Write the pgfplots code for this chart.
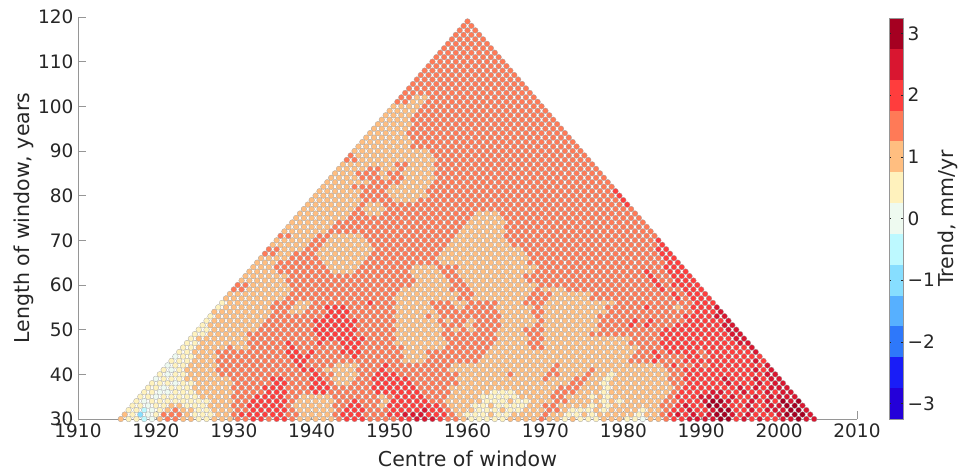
\documentclass[border=0pt]{standalone}
\usepackage{pgfplots}
\pgfplotsset{compat=1.18}
\usepackage{fontspec}
\setmainfont{DejaVu Sans}
\definecolor{b1}{RGB}{36,0,217}
\definecolor{b2}{RGB}{25,29,247}
\definecolor{b3}{RGB}{46,120,250}
\definecolor{b4}{RGB}{87,176,255}
\definecolor{c0}{RGB}{135,222,255}
\definecolor{c1}{RGB}{189,249,255}
\definecolor{c2}{RGB}{238,250,240}
\definecolor{c3}{RGB}{255,242,189}
\definecolor{c4}{RGB}{255,190,128}
\definecolor{c5}{RGB}{255,122,87}
\definecolor{c6}{RGB}{255,61,61}
\definecolor{c7}{RGB}{217,22,48}
\definecolor{c8}{RGB}{165,0,33}
\definecolor{edge}{RGB}{165,165,165}
\definecolor{txt}{RGB}{38,38,38}
\definecolor{axl}{RGB}{150,150,150}
\newcount\Xc \newcount\Xe \newcount\Xa \newcount\Ln \newtoks\Pts
% One row of the chart: window length, then one class digit per window centre.
% Classes: 0=-1, 1=-0.5, 2=0, 3=0.5, 4=1, 5=1.5, 6=2, 7=2.5, 8=3 mm/yr
\def\R#1#2{\Ln=#1\relax
  \Xc=\numexpr 3831+#1-30\relax
  \Xe=\numexpr 4009-#1+30\relax
  \Xa=\numexpr((\Xc-\ifodd\Xc 1\else 0\fi-9)/20)*20+20+\ifodd\Xc 1\else 0\fi\relax
  \Pts={}\Rp#2;%
  \edef\tmp{\noexpand\addplot[dots] coordinates {\the\Pts};}\tmp}
\def\Rp#1{\ifx#1;\else
  \ifx#1/\Xc=\Xa \advance\Xa by 20
  \else
    \ifnum\Xc>\Xe\else
      \edef\pt{(\the\numexpr(\Xc-\ifodd\Xc 1\else 0\fi)/2\relax.\ifodd\Xc 5\else 0\fi,\the\Ln) [#1]}%
      \Pts=\expandafter\expandafter\expandafter{\expandafter\the\expandafter\Pts\pt}%
    \fi
    \advance\Xc by 2
  \fi
  \expandafter\Rp\fi}
\pgfplotsset{dots/.style={scatter,only marks,scatter src=explicit symbolic,mark size=2.85pt,
  mark options={line width=.3pt},
  scatter/classes={
   0={mark=*,draw=edge,fill=c0},1={mark=*,draw=edge,fill=c1},2={mark=*,draw=edge,fill=c2},
   3={mark=*,draw=edge,fill=c3},4={mark=*,draw=edge,fill=c4},5={mark=*,draw=edge,fill=c5},
   6={mark=*,draw=edge,fill=c6},7={mark=*,draw=edge,fill=c7},8={mark=*,draw=edge,fill=c8}}}}
\begin{document}
\begin{tikzpicture}[x=1pt,y=1pt]
\useasboundingbox (0,0) rectangle (959,472);
\begin{axis}[at={(78pt,53pt)},anchor=south west,scale only axis,width=779pt,height=402pt,
  xmin=1910,xmax=2010,ymin=30,ymax=120,clip=false,
  axis x line*=bottom,axis y line*=left,axis line style={-,color=axl,line width=.8pt},
  xtick={1910,1920,...,2010},ytick={30,40,...,120},
  tick align=inside,major tick length=8pt,tick style={color=axl,line width=.8pt},
  /pgf/number format/assume math mode=true,/pgf/number format/1000 sep={},
  tick label style={font=\fontsize{18.5}{20}\selectfont,color=txt},
  xlabel={Centre of window},ylabel={Length of window, years},
  label style={font=\fontsize{20.5}{23}\selectfont,color=txt},
  xlabel style={at={(axis description cs:0.5,0)},anchor=base,yshift=-47pt},
  ylabel style={at={(axis description cs:0,0.5)},anchor=base,rotate=0,yshift=48pt},
  xticklabel style={yshift=-1pt},yticklabel style={xshift=-1pt},
]
\R{30}{43312/4554433444/5566566544/4445666555/5667776554/3333344445/4434333444/3324456677/7788676766/77877}
\R{31}{4302/3555433344/5666666554/4445666555/6677766654/3334334444/5443343444/4434456767/6788767666/78887}
\R{32}{3312/3454433444/5566666544/4445666555/6666766544/4333433444/5543334344/4434456676/6788667677/7887}
\R{33}{332/3344333444/5566666544/4445566554/6666666544/4334333344/5544443434/4444455676/6887667667/7887}
\R{34}{323/3333333444/5566666544/4445565554/6666655444/4433343344/4554444343/4444455666/7887667676/878}
\R{35}{33/2333334444/5556666554/4445555554/5666655544/4433333444/4554443434/4444445666/7776766767/777}
\R{36}{33/2233344444/5555666555/6655555566/6666555544/4443334444/4555444344/4444445666/6776676676/77}
\R{37}{3/3233344444/5555666555/6665555566/6666555544/4444444444/4455544434/4444444566/6666676767/77}
\R{38}{3/3323344444/5555566555/6654455566/6665555554/4444444444/4445544344/4444445566/6667666767/7}
\R{39}{2333444444/5555566555/6654445566/6665555554/4444444444/5444554434/4444445566/6667666767/7}
\R{40}{3233444455/5555555555/6554445566/6555555554/4444454444/5544454434/4444445566/6666666677}
\R{41}{323444455/5555555556/6544445556/5555555544/4444444444/4544445444/4444445566/6666666767}
\R{42}{233444455/5555555565/5554445556/5555555544/4444444444/4544444444/4444456556/5666666677}
\R{43}{33344455/5555555566/5555555555/5544455555/5544444444/4444444444/4555655566/6666666767}
\R{44}{23344455/5555555666/5555565555/5544455555/5544444444/4444444444/4555655566/5666666677}
\R{45}{3344455/5555555665/6555666555/5544455555/5554444444/4444444444/4455656666/5666666767}
\R{46}{3344445/4455555655/5555665555/5544444555/5554444455/4444444444/4455566666/6666667}
\R{47}{334444/4455555655/5655666555/5444444455/5555444455/4444444444/4555566666/6666677}
\R{48}{344444/4455555555/5666666555/5444444555/5555444455/4444444444/4555566666/666677}
\R{49}{33444/4455555555/5666665555/5444444555/5555444455/4444445555/5555566666/666677}
\R{50}{33444/4445555555/6666665555/5444444545/4555444555/4444444555/5555566666/66677}
\R{51}{3444/4444555555/5666665555/5444444555/4555544445/4444444555/5656555666/66677}
\R{52}{3444/4444555555/6666665555/5444445455/4555444445/4444444555/5656555566/6667}
\R{53}{344/4444455555/5566655555/5444454555/5555544445/4444444555/5555555566/6677}
\R{54}{444/4444455445/5566655555/5444445555/5555444455/4444444455/5555555556/667}
\R{55}{34/4444455544/5566655555/5444445554/5555444445/4444444455/5556555456/667}
\R{56}{34/4444455544/5555555655/5444455544/5555444555/4444444445/5555555556/66}
\R{57}{4/4444444555/5555555555/5444444445/5444444455/5444445555/5555555656/66}
\R{58}{4/4444444555/5555555555/5444444445/5444444455/5444445555/5555556566/6}
\R{59}{5544444455/5555555555/5544444455/5444444445/4445555555/5555565566/6}
\R{60}{5544444555/5555555555/5554444455/4444444445/5555555555/5555656666}
\R{61}{444444555/5555555555/5555444455/4444444455/5555555555/5555655666}
\R{62}{444444555/5555555555/5554444554/4444444555/5555555555/555655666}
\R{63}{44445555/5554445555/5554444554/4444444445/5555555555/555655666}
\R{64}{44455555/5544445555/5554445554/4444444445/5555555555/55555666}
\R{65}{4445555/5544444555/5555555444/4444444455/5555555555/55555566}
\R{66}{4444555/5444444555/5555554444/4444444455/5555555555/5555566}
\R{67}{554455/5444444455/5555555444/4444444455/5555555555/5555566}
\R{68}{554445/5444444455/5555555444/4444444555/5555555555/555566}
\R{69}{44444/5544444455/5555555544/4444445555/5555555555/555556}
\R{70}{44444/5544444555/5555555544/4444455555/5555555555/55556}
\R{71}{5544/4554444555/5555555554/4444455555/5555555555/55555}
\R{72}{4444/4455555555/5555555554/4444455555/5555555555/5555}
\R{73}{444/4445555555/5555555555/4444455555/5555555555/5555}
\R{74}{444/4445555555/5555555555/4444455555/5555555555/555}
\R{75}{44/4444455555/5555555555/5444455555/5555555555/555}
\R{76}{44/4444455445/5555555555/5444555555/5555555555/55}
\R{77}{4/4444445444/5555555555/5555555555/5555555555/55}
\R{78}{4/4444445445/5555555555/5555555555/5555555555/6}
\R{79}{4444444555/5444555555/5555555555/5555555555/6}
\R{80}{4444445555/4444455555/5555555555/5555555556}
\R{81}{444444555/4444455555/5555555555/5555555556}
\R{82}{444455555/4444455555/5555555555/555555555}
\R{83}{44444455/5544445555/555555555555555555555555555555}
\R{84}{44445554/5544445555/555555555555555555555555555555}
\R{85}{4445554/5544445555/555555555555555555555555555555}
\R{86}{4444554/4544445555/555555555555555555555555555555}
\R{87}{444444/4554445555/555555555555555555555555555555}
\R{88}{554444/4444445555/555555555555555555555555555555}
\R{89}{54444/4444445555/555555555555555555555555555555}
\R{90}{44444/4444455555/555555555555555555555555555555}
\R{91}{4444/4445555555/555555555555555555555555555555}
\R{92}{4444/4445555555/555555555555555555555555555555}
\R{93}{444/4445555555/555555555555555555555555555555}
\R{94}{444/4455555555/555555555555555555555555555555}
\R{95}{44/4445555555/555555555555555555555555555555}
\R{96}{44/4445555555/555555555555555555555555555555}
\R{97}{4/4445555555/555555555555555555555555555555}
\R{98}{4/4445555555/555555555555555555555555555555}
\R{99}{4444555555/555555555555555555555555555555}
\R{100}{4444555555/555555555555555555555555555555}
\R{101}{554455555/555555555555555555555555555555}
\R{102}{554455555/555555555555555555555555555555}
\R{103}{55555555555555555555}
\R{104}{55555555555555555555}
\R{105}{55555555555555555555}
\R{106}{55555555555555555555}
\R{107}{55555555555555555555}
\R{108}{55555555555555555555}
\R{109}{55555555555555555555}
\R{110}{55555555555555555555}
\R{111}{55555555555555555555}
\R{112}{55555555555555555555}
\R{113}{55555555555555555555}
\R{114}{55555555555555555555}
\R{115}{55555555555555555555}
\R{116}{55555555555555555555}
\R{117}{55555555555555555555}
\R{118}{55555555555555555555}
\R{119}{55555555555555555555}
\end{axis}
\begin{axis}[at={(889pt,53pt)},anchor=south west,scale only axis,width=14pt,height=401pt,
  xmin=0,xmax=1,ymin=-3.25,ymax=3.25,axis on top,
  xtick=\empty,ytick={-3,-2,...,3},yticklabels={−3,−2,−1,0,1,2,3},
  yticklabel pos=right,tick align=inside,major tick length=2pt,
  tick style={color=txt,line width=.4pt},
  axis line style={color=axl,line width=.4pt},
  tick label style={font=\fontsize{18.5}{20}\selectfont,color=txt},
  ylabel={Trend, mm/yr},ylabel near ticks,yticklabel style={xshift=1pt},
  label style={font=\fontsize{20.5}{23}\selectfont,color=txt},
  ylabel style={at={(axis description cs:1,0.5)},anchor=base,rotate=0,yshift=-50pt},
]
\addplot[fill=b1,draw=none] coordinates {(0,-3.25)(1,-3.25)(1,-2.75)(0,-2.75)} --cycle;
\addplot[fill=b2,draw=none] coordinates {(0,-2.75)(1,-2.75)(1,-2.25)(0,-2.25)} --cycle;
\addplot[fill=b3,draw=none] coordinates {(0,-2.25)(1,-2.25)(1,-1.75)(0,-1.75)} --cycle;
\addplot[fill=b4,draw=none] coordinates {(0,-1.75)(1,-1.75)(1,-1.25)(0,-1.25)} --cycle;
\addplot[fill=c0,draw=none] coordinates {(0,-1.25)(1,-1.25)(1,-0.75)(0,-0.75)} --cycle;
\addplot[fill=c1,draw=none] coordinates {(0,-0.75)(1,-0.75)(1,-0.25)(0,-0.25)} --cycle;
\addplot[fill=c2,draw=none] coordinates {(0,-0.25)(1,-0.25)(1,0.25)(0,0.25)} --cycle;
\addplot[fill=c3,draw=none] coordinates {(0,0.25)(1,0.25)(1,0.75)(0,0.75)} --cycle;
\addplot[fill=c4,draw=none] coordinates {(0,0.75)(1,0.75)(1,1.25)(0,1.25)} --cycle;
\addplot[fill=c5,draw=none] coordinates {(0,1.25)(1,1.25)(1,1.75)(0,1.75)} --cycle;
\addplot[fill=c6,draw=none] coordinates {(0,1.75)(1,1.75)(1,2.25)(0,2.25)} --cycle;
\addplot[fill=c7,draw=none] coordinates {(0,2.25)(1,2.25)(1,2.75)(0,2.75)} --cycle;
\addplot[fill=c8,draw=none] coordinates {(0,2.75)(1,2.75)(1,3.25)(0,3.25)} --cycle;
\end{axis}
\end{tikzpicture}
\end{document}
